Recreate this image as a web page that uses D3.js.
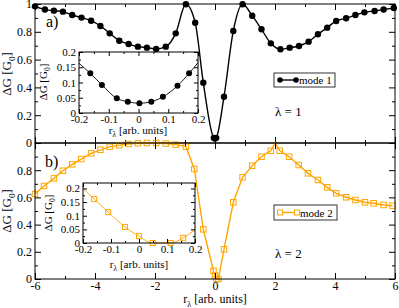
<!DOCTYPE html>
<html>
<head>
<meta charset="utf-8">
<script src="https://cdn.jsdelivr.net/npm/d3@7"></script>
<style>
  body { margin: 0; background: #fff; }
  svg { display: block; }
  svg text { font-family: "Liberation Serif", "Times New Roman", "DejaVu Serif", serif; }
</style>
</head>
<body>
<svg id="chart" width="399" height="308"></svg>
<script>
// values
const mode1X = [-6.0, -5.67, -5.37, -5.07, -4.76, -4.45, -4.13, -3.82, -3.51, -3.19, -2.88, -2.57, -2.27, -1.96, -1.64, -1.31, -0.97, -0.66, -0.39, -0.04, 0, 0.04, 0.3, 0.61, 0.92, 1.24, 1.55, 1.86, 2.18, 2.49, 2.8, 3.12, 3.43, 3.74, 4.04, 4.37, 4.68, 4.98, 5.32, 5.62, 5.96];
const mode1Y = [0.983, 0.96, 0.952, 0.945, 0.921, 0.902, 0.88, 0.842, 0.789, 0.736, 0.712, 0.693, 0.686, 0.676, 0.693, 0.789, 0.998, 0.865, 0.434, 0.037, 0.032, 0.037, 0.333, 0.806, 0.998, 0.916, 0.818, 0.717, 0.674, 0.686, 0.698, 0.729, 0.782, 0.83, 0.878, 0.897, 0.921, 0.94, 0.95, 0.96, 0.971];

const mode2X = [-6, -5.7, -5.37, -5.07, -4.76, -4.46, -4.13, -3.82, -3.51, -3.19, -2.88, -2.57, -2.27, -1.96, -1.64, -1.31, -0.97, -0.69, -0.39, -0.05, 0, 0.05, 0.11, 0.3, 0.61, 0.92, 1.24, 1.55, 1.86, 2.16, 2.47, 2.79, 3.1, 3.43, 3.74, 4.04, 4.37, 4.68, 5.0, 5.29, 5.62, 5.92];
const mode2Y = [0.625, 0.684, 0.74, 0.796, 0.843, 0.882, 0.924, 0.95, 0.972, 0.984, 0.993, 0.998, 1.0, 1.0, 0.996, 0.988, 0.973, 0.809, 0.365, 0.06, 0.025, 0.0, 0.0, 0.218, 0.564, 0.748, 0.833, 0.899, 0.943, 0.943, 0.899, 0.838, 0.777, 0.728, 0.674, 0.63, 0.601, 0.581, 0.564, 0.557, 0.544, 0.539];
// line-only point (the cusp at r = 2 has no marker)
const mode2Cusp = [[2.0, 1.0]];

const inset1X = [-0.162, -0.123, -0.073, -0.036, 0.003, 0.043, 0.082, 0.131, 0.170];
const inset1Y = [0.130, 0.092, 0.048, 0.037, 0.032, 0.037, 0.053, 0.089, 0.130];
const inset1Ends = [[-0.2, 0.163], [0.2, 0.165]];

const inset2X = [-0.16, -0.11, -0.05, 0.0, 0.049, 0.113, 0.158];
const inset2Y = [0.161, 0.113, 0.059, 0.025, 0.0, 0.0, 0.019];
const inset2Ends = [[-0.2, 0.2], [0.2, 0.049]];

const mainXTicks = [-6, -4, -2, 0, 2, 4, 6];
const mainXMinor = [-5, -3, -1, 1, 3, 5];
const topYTicks = [0, 0.2, 0.4, 0.6, 0.8, 1];
const botYTicks = [0, 0.2, 0.4, 0.6, 0.8];
const mainYMinor = [0.1, 0.3, 0.5, 0.7, 0.9];
const insetXTicks = [-0.2, -0.1, 0, 0.1, 0.2];
const insetXMinor = [-0.15, -0.05, 0.05, 0.15];
const insetYTicks = [0, 0.05, 0.1, 0.15, 0.2];
const insetYMinor = [0.025, 0.075, 0.125, 0.175];

const orange = "#ffa500";
const svg = d3.select("#chart");

const zip = (xs, ys) => xs.map((v, i) => [v, ys[i]]);

// draws ticks on all four sides (inward) plus a frame
function frameAxes(g, x, y, o) {
  const [x0, x1] = x.range();
  const [y0, y1] = y.range(); // y0 = bottom
  const fmt = d => String(d);
  const style = sel => {
    sel.attr("font-family", null).attr("font-size", o.fs);
    sel.select(".domain").remove();
    sel.selectAll("line").attr("stroke", "#000");
    sel.selectAll("text").attr("fill", "#000");
  };
  g.append("g").attr("transform", `translate(0,${y0})`)
    .call(d3.axisBottom(x).tickValues(o.xt).tickSize(-o.maj).tickPadding(2).tickFormat(o.xLabels ? fmt : "")).call(style);
  g.append("g").attr("transform", `translate(0,${y0})`)
    .call(d3.axisBottom(x).tickValues(o.xm).tickSize(-o.min).tickFormat("")).call(style);
  g.append("g").attr("transform", `translate(0,${y1})`)
    .call(d3.axisTop(x).tickValues(o.xt).tickSize(-o.maj).tickFormat("")).call(style);
  g.append("g").attr("transform", `translate(0,${y1})`)
    .call(d3.axisTop(x).tickValues(o.xm).tickSize(-o.min).tickFormat("")).call(style);
  g.append("g").attr("transform", `translate(${x0},0)`)
    .call(d3.axisLeft(y).tickValues(o.yt).tickSize(-o.maj).tickPadding(3).tickFormat(fmt)).call(style);
  g.append("g").attr("transform", `translate(${x0},0)`)
    .call(d3.axisLeft(y).tickValues(o.ym).tickSize(-o.min).tickFormat("")).call(style);
  g.append("g").attr("transform", `translate(${x1},0)`)
    .call(d3.axisRight(y).tickValues(o.yt).tickSize(-o.maj).tickFormat("")).call(style);
  g.append("g").attr("transform", `translate(${x1},0)`)
    .call(d3.axisRight(y).tickValues(o.ym).tickSize(-o.min).tickFormat("")).call(style);
  g.append("rect").attr("x", x0).attr("y", y1).attr("width", x1 - x0).attr("height", y0 - y1)
    .attr("fill", "none").attr("stroke", "#000");
}

function dgLabel(g, cx, cy, fs) {
  const t = g.append("text").attr("transform", `translate(${cx},${cy}) rotate(-90)`)
    .attr("text-anchor", "middle").attr("font-size", fs);
  t.append("tspan").text("ΔG [G");
  t.append("tspan").attr("dy", fs * 0.3).attr("font-size", fs * 0.7).text("0");
  t.append("tspan").attr("dy", -fs * 0.3).text("]");
}

function rLabel(g, cx, by, fs) {
  const t = g.append("text").attr("x", cx).attr("y", by).attr("text-anchor", "middle").attr("font-size", fs);
  t.append("tspan").text("r");
  t.append("tspan").attr("dy", fs * 0.3).attr("font-size", fs * 0.7).text("λ");
  t.append("tspan").attr("dy", -fs * 0.3).text(" [arb. units]");
}

function circles(g, pts, x, y, r) {
  g.append("g").selectAll("circle").data(pts).join("circle")
    .attr("cx", d => x(d[0])).attr("cy", d => y(d[1])).attr("r", r).attr("fill", "#000");
}

function squares(g, pts, x, y, s) {
  g.append("g").selectAll("rect").data(pts).join("rect")
    .attr("x", d => x(d[0]) - s / 2).attr("y", d => y(d[1]) - s / 2)
    .attr("width", s).attr("height", s)
    .attr("fill", "none").attr("stroke", orange).attr("stroke-width", 1);
}

// --- main scales ---
const x = d3.scaleLinear().domain([-6, 6]).range([35, 395]);
const yTop = d3.scaleLinear().domain([0, 1]).range([143, 4]);
const yBot = d3.scaleLinear().domain([0, 1]).range([279, 143]);

// top panel (mode 1)
const gTop = svg.append("g");
const pts1 = zip(mode1X, mode1Y);
gTop.append("path").datum(pts1)
  .attr("d", d3.line().x(d => x(d[0])).y(d => yTop(d[1])).curve(d3.curveMonotoneX))
  .attr("fill", "none").attr("stroke", "#000").attr("stroke-width", 1.4);
circles(gTop, pts1, x, yTop, 3.2);
frameAxes(gTop, x, yTop, { xt: mainXTicks, xm: mainXMinor, yt: topYTicks, ym: mainYMinor, maj: 6, min: 3, fs: 12, xLabels: false });

// bottom panel (mode 2)
const gBot = svg.append("g");
const pts2 = zip(mode2X, mode2Y);
const line2 = pts2.concat(mode2Cusp).sort((a, b) => a[0] - b[0]);
gBot.append("path").datum(line2)
  .attr("d", d3.line().x(d => x(d[0])).y(d => yBot(d[1])))
  .attr("fill", "none").attr("stroke", orange).attr("stroke-width", 1.4);
squares(gBot, pts2, x, yBot, 5.5);
frameAxes(gBot, x, yBot, { xt: mainXTicks, xm: mainXMinor, yt: botYTicks, ym: mainYMinor, maj: 6, min: 3, fs: 12, xLabels: true });

dgLabel(svg, 11, 74, 13);
dgLabel(svg, 11, 211, 13);
rLabel(svg, 215, 303, 12);

svg.append("text").attr("x", 46).attr("y", 27).attr("font-size", 16).text("a)");
svg.append("text").attr("x", 45).attr("y", 167).attr("font-size", 16).text("b)");
svg.append("text").attr("x", 275).attr("y", 116).attr("font-size", 13).text("λ = 1");
svg.append("text").attr("x", 275).attr("y", 258).attr("font-size", 13).text("λ = 2");

// legends
const leg1 = svg.append("g");
leg1.append("rect").attr("x", 274).attr("y", 73).attr("width", 61).attr("height", 14)
  .attr("fill", "#fff").attr("stroke", "#333");
leg1.append("line").attr("x1", 280).attr("x2", 296).attr("y1", 80).attr("y2", 80).attr("stroke", "#000").attr("stroke-width", 1.4);
leg1.selectAll("circle").data([280, 296]).join("circle").attr("cx", d => d).attr("cy", 80).attr("r", 2.8).attr("fill", "#000");
leg1.append("text").attr("x", 299).attr("y", 84).attr("font-size", 11).text("mode 1");

const leg2 = svg.append("g");
leg2.append("rect").attr("x", 274).attr("y", 205).attr("width", 63).attr("height", 15)
  .attr("fill", "#fff").attr("stroke", "#333");
leg2.append("line").attr("x1", 280).attr("x2", 297).attr("y1", 212.5).attr("y2", 212.5).attr("stroke", orange).attr("stroke-width", 1.4);
leg2.selectAll("rect.m").data([280, 297]).join("rect").attr("class", "m")
  .attr("x", d => d - 2.5).attr("y", 210).attr("width", 5).attr("height", 5)
  .attr("fill", "#fff").attr("stroke", orange);
leg2.append("text").attr("x", 300).attr("y", 216.5).attr("font-size", 11).text("mode 2");

// --- inset 1 ---
const ix1 = d3.scaleLinear().domain([-0.2, 0.2]).range([79, 198]);
const iy1 = d3.scaleLinear().domain([0, 0.2]).range([113, 52]);
const gI1 = svg.append("g");
gI1.append("rect").attr("x", 79).attr("y", 52).attr("width", 119).attr("height", 61).attr("fill", "#fff");
const in1 = zip(inset1X, inset1Y);
const in1Line = [inset1Ends[0]].concat(in1, [inset1Ends[1]]);
gI1.append("path").datum(in1Line)
  .attr("d", d3.line().x(d => ix1(d[0])).y(d => iy1(d[1])).curve(d3.curveMonotoneX))
  .attr("fill", "none").attr("stroke", "#000").attr("stroke-width", 0.9);
circles(gI1, in1, ix1, iy1, 3);
frameAxes(gI1, ix1, iy1, { xt: insetXTicks, xm: insetXMinor, yt: insetYTicks, ym: insetYMinor, maj: 4, min: 2, fs: 11, xLabels: true });
dgLabel(gI1, 47, 82, 11);
rLabel(gI1, 138, 134, 11);

// --- inset 2 ---
const ix2 = d3.scaleLinear().domain([-0.2, 0.2]).range([83, 195]);
const iy2 = d3.scaleLinear().domain([0, 0.22]).range([243, 183]);
const gI2 = svg.append("g");
gI2.append("rect").attr("x", 83).attr("y", 183).attr("width", 112).attr("height", 60).attr("fill", "#fff");
const in2 = zip(inset2X, inset2Y);
const in2Line = [inset2Ends[0]].concat(in2, [inset2Ends[1]]);
gI2.append("path").datum(in2Line)
  .attr("d", d3.line().x(d => ix2(d[0])).y(d => iy2(d[1])).curve(d3.curveMonotoneX))
  .attr("fill", "none").attr("stroke", orange).attr("stroke-width", 0.9);
squares(gI2, in2, ix2, iy2, 5);
frameAxes(gI2, ix2, iy2, { xt: insetXTicks, xm: insetXMinor, yt: insetYTicks, ym: insetYMinor, maj: 4, min: 2, fs: 11, xLabels: true });
dgLabel(gI2, 52, 213, 11);
rLabel(gI2, 139, 268, 11);
</script>
</body>
</html>
